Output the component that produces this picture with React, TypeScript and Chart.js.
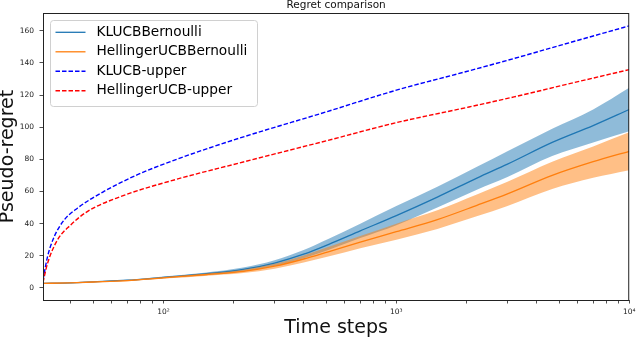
import React, { useEffect, useRef } from "react";
import { Chart, registerables } from "chart.js";

Chart.register(...registerables);

const FONT = "'DejaVu Sans', 'Liberation Sans', sans-serif";

const chartTitle = "Regret comparison";
const xTitle = "Time steps";
const yTitle = "Pseudo-regret";

// time steps at which the two algorithms' regret was read
const steps = [30, 40, 50, 70, 100, 150, 220, 300, 400, 510, 700, 1000, 1500, 2230, 3000, 4670, 7000, 10000];

const kluMean = [2.8, 3.2, 3.8, 4.8, 6.6, 8.7, 11.5, 15.5, 21, 27, 35.5, 45, 56.5, 68.5, 77, 90.5, 101, 111];
const kluUpper = [3.0, 3.45, 4.1, 5.15, 7.1, 9.5, 12.7, 17.3, 23.6, 30.4, 40, 51, 63, 75.5, 85, 99, 111, 124.5];
const kluLower = [2.6, 2.95, 3.5, 4.45, 6.1, 7.9, 10.3, 13.7, 18.4, 23.6, 31, 39, 50, 61.3, 69, 82, 90.5, 97.5];

const helMean = [2.8, 3.2, 3.7, 4.6, 6.3, 8.2, 10.3, 13.5, 18, 22.5, 28.5, 35, 42.5, 51.5, 58.5, 70, 78.5, 85];
const helUpper = [3.0, 3.4, 4.0, 5.0, 6.8, 8.9, 11.3, 15, 20.2, 25.5, 32.3, 40, 48.3, 58.3, 66, 78.5, 88, 96.8];
const helLower = [2.6, 3.0, 3.4, 4.2, 5.8, 7.5, 9.3, 12, 15.8, 19.5, 24.7, 30, 36.7, 44.7, 51, 61.5, 68.5, 73.2];

// theoretical upper bounds
const kluBoundSteps = [30.4, 31.8, 34, 37.5, 42.7, 55.5, 77, 114, 200, 500, 1000, 2000, 3200, 5000, 10000];
const kluBound = [5, 19.5, 32, 42.3, 49.6, 60, 70.3, 80, 92, 109.5, 123, 134.6, 142.7, 150.7, 163];
const helBoundSteps = [30.4, 31.8, 35.1, 40, 47.1, 65.4, 114, 200, 500, 1000, 2000, 3200, 5000, 10000];
const helBound = [3.5, 15.3, 29.9, 39.2, 47.5, 56.8, 67.6, 76.8, 91.5, 102.8, 112.2, 118.8, 125.5, 135.8];

// axes
const xMin = 30.4;
const xMax = 10000;
const yMin = -7.5;
const yMax = 171;
const yTicks = [0, 20, 40, 60, 80, 100, 120, 140, 160];
const xTicks = [40, 50, 60, 70, 80, 90, 100, 200, 300, 400, 500, 600, 700, 800, 900, 1000, 2000, 3000, 4000, 5000, 6000, 7000, 8000, 9000, 10000];
const majorTicks = [100, 1000, 10000];
const majorLabels = ["10\u00b2", "10\u00b3", "10\u2074"];

const pts = (xs: number[], ys: number[]) => xs.map((x, i) => ({ x, y: ys[i] }));

const framePlugin = {
  id: "frame",
  afterDatasetsDraw(chart: any) {
    const { left, top, right, bottom } = chart.chartArea;
    const ctx = chart.ctx;
    ctx.save();
    ctx.strokeStyle = "#222";
    ctx.lineWidth = 1;
    ctx.strokeRect(left + 0.5, top + 0.5, right - left - 1, bottom - top);
    ctx.restore();
  },
};

const legendPlugin = {
  id: "insideLegend",
  afterDraw(chart: any) {
    const ctx = chart.ctx;
    const area = chart.chartArea;
    const items = chart.data.datasets.filter((d: any) => d.label);
    const bx = area.left + 7.5;
    const by = area.top + 7.5;
    const bw = 207;
    const bh = 86;
    ctx.save();
    ctx.beginPath();
    ctx.roundRect(bx, by, bw, bh, 3);
    ctx.fillStyle = "rgba(255,255,255,0.8)";
    ctx.fill();
    ctx.strokeStyle = "#d0d0d0";
    ctx.lineWidth = 1;
    ctx.stroke();
    items.forEach((d: any, i: number) => {
      const cy = by + 11.8 + i * 19.5;
      ctx.beginPath();
      ctx.setLineDash(d.borderDash || []);
      ctx.strokeStyle = d.borderColor;
      ctx.lineWidth = d.borderWidth;
      ctx.moveTo(bx + 5, cy);
      ctx.lineTo(bx + 35, cy);
      ctx.stroke();
      ctx.setLineDash([]);
      ctx.fillStyle = "#000";
      ctx.font = `13.7px ${FONT}`;
      ctx.textBaseline = "middle";
      ctx.textAlign = "left";
      ctx.fillText(d.label, bx + 46, cy);
    });
    ctx.restore();
  },
};

export default function App() {
  const ref = useRef<HTMLCanvasElement | null>(null);

  useEffect(() => {
    if (!ref.current) return;
    const common = { pointRadius: 0, pointHoverRadius: 0, cubicInterpolationMode: "monotone" };
    const band = { ...common, borderWidth: 0, borderColor: "rgba(0,0,0,0)" };
    const dash = [4.5, 2];
    const chart = new Chart(ref.current, {
      type: "line",
      data: {
        datasets: [
          { ...band, data: pts(steps, kluUpper), backgroundColor: "rgba(31,119,180,0.5)", fill: "+1", order: 6 },
          { ...band, data: pts(steps, kluLower), fill: false, order: 6 },
          {
            ...common,
            label: "KLUCBBernoulli",
            data: pts(steps, kluMean),
            borderColor: "#1f77b4",
            borderWidth: 1.3,
            fill: false,
            order: 5,
          },
          { ...band, data: pts(steps, helUpper), backgroundColor: "rgba(255,127,14,0.5)", fill: "+1", order: 4 },
          { ...band, data: pts(steps, helLower), fill: false, order: 4 },
          {
            ...common,
            label: "HellingerUCBBernoulli",
            data: pts(steps, helMean),
            borderColor: "#ff7f0e",
            borderWidth: 1.3,
            fill: false,
            order: 3,
          },
          {
            ...common,
            label: "KLUCB-upper",
            data: pts(kluBoundSteps, kluBound),
            borderColor: "#0000ff",
            borderWidth: 1.4,
            borderDash: dash,
            fill: false,
            order: 2,
          },
          {
            ...common,
            label: "HellingerUCB-upper",
            data: pts(helBoundSteps, helBound),
            borderColor: "#ff0000",
            borderWidth: 1.4,
            borderDash: dash,
            fill: false,
            order: 1,
          },
        ],
      } as any,
      options: {
        animation: false,
        responsive: false,
        devicePixelRatio: 1,
        parsing: false as any,
        layout: { padding: { top: 0, right: 7, bottom: 0, left: 0 } },
        plugins: {
          legend: { display: false },
          tooltip: { enabled: false },
          title: { display: false },
        },
        scales: {
          x: {
            type: "logarithmic",
            position: "bottom",
            min: xMin,
            max: xMax,
            bounds: "data",
            afterBuildTicks: (s: any) => {
              s.ticks = xTicks.map((v) => ({ value: v, major: majorTicks.includes(v) }));
            },
            afterFit: (s: any) => {
              s.height = 39;
            },
            ticks: {
              autoSkip: false,
              maxRotation: 0,
              minRotation: 0,
              padding: 4.5,
              color: "#222",
              font: { family: FONT, size: 7.5 },
              callback: (v: any) => {
                const i = majorTicks.indexOf(Number(v));
                return i >= 0 ? majorLabels[i] : "";
              },
            },
            grid: {
              display: true,
              drawOnChartArea: false,
              drawTicks: true,
              tickLength: 3.5,
              color: "#222",
              lineWidth: 0.8,
            },
            border: { display: false },
            title: {
              display: true,
              text: xTitle,
              color: "#111",
              font: { family: FONT, size: 19, lineHeight: 1.2 },
              padding: 0,
            },
          },
          xTop: {
            type: "linear",
            position: "top",
            display: true,
            afterFit: (s: any) => {
              s.height = 13;
            },
            ticks: { display: false },
            grid: { display: false, drawTicks: false },
            border: { display: false },
            title: {
              display: true,
              text: chartTitle,
              color: "#111",
              font: { family: FONT, size: 10.5, lineHeight: 1.0 },
              padding: 0,
            },
          },
          y: {
            type: "linear",
            position: "left",
            min: yMin,
            max: yMax,
            afterBuildTicks: (s: any) => {
              s.ticks = yTicks.map((v) => ({ value: v }));
            },
            afterFit: (s: any) => {
              s.width = 43;
            },
            ticks: {
              autoSkip: false,
              padding: 5.5,
              color: "#222",
              font: { family: FONT, size: 7.5 },
            },
            grid: {
              display: true,
              drawOnChartArea: false,
              drawTicks: true,
              tickLength: 3.5,
              color: "#222",
              lineWidth: 0.8,
            },
            border: { display: false },
            title: {
              display: true,
              text: yTitle,
              color: "#111",
              font: { family: FONT, size: 19, lineHeight: 0.87 },
              padding: 0,
            },
          },
        },
      } as any,
      plugins: [framePlugin, legendPlugin],
    });
    return () => chart.destroy();
  }, []);

  return (
    <div style={{ position: "absolute", left: 0, top: 0, width: 640, height: 339, background: "#fff" }}>
      <canvas ref={ref} width={640} height={339} />
    </div>
  );
}
